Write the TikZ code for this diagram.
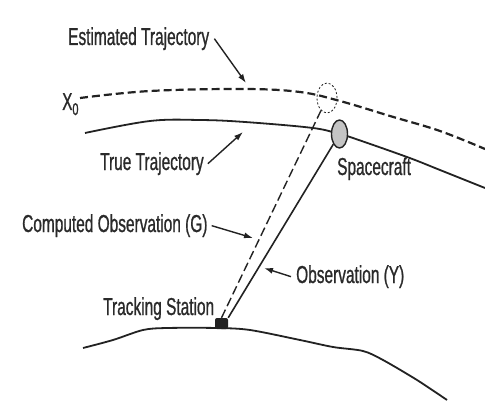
\documentclass[tikz,border=0pt]{standalone}
\usepackage{fontspec}
\setmainfont{Liberation Sans}[FakeStretch=0.63, FakeBold=0.8]
\usetikzlibrary{shapes.geometric,arrows.meta}
\definecolor{ink}{HTML}{222222}
\definecolor{txt}{HTML}{2A2A2A}
\definecolor{scfill}{HTML}{C4C4C4}
\tikzset{
  lbl/.style={anchor=base west, inner sep=0pt, text=txt, font=\fontsize{24.5}{26}\selectfont},
  pointer/.style={draw=ink, line width=1.4pt, -{Latex[length=9pt,width=6pt]}},
  traj/.style={draw=ink, line width=1.8pt},
  esttraj/.style={draw=ink, line width=2.2pt, dash pattern=on 8pt off 4pt},
  obsline/.style={draw=ink, line width=1.6pt},
  compline/.style={draw=ink, line width=1.4pt, dash pattern=on 9pt off 4pt},
}
\begin{document}
\begin{tikzpicture}[x=1pt,y=-1pt]
\useasboundingbox (0,0) rectangle (485,404);
\fill[white] (0,0) rectangle (485,404);

% trajectories and ground
\draw[esttraj] plot[smooth, tension=0.6] coordinates {(80,98) (150,91) (245,89) (300,92) (340,101) (390,116) (440,131) (485,149)};
\draw[traj] plot[smooth, tension=0.6] coordinates {(85,133) (150,121) (200,120) (245,122) (313,128) (339,134) (350,137) (407,157) (440,170) (485,188)};
\draw[traj] plot[smooth, tension=0.5] coordinates {(83,348) (113,340) (143,330) (167,328) (217,328) (250,330) (300,340) (333,347) (363,351) (383,360) (417,380) (447,400)};

% bodies
\node[ellipse, draw=ink, line width=0.8pt, dash pattern=on 2pt off 2pt, minimum width=20pt, minimum height=30pt, inner sep=0pt] (ghost) at (327,98) {};
\node[ellipse, draw=ink, line width=1.4pt, fill=scfill, minimum width=16pt, minimum height=28pt, inner sep=0pt] (sc) at (339.5,134) {};
\node[rectangle, rounded corners=2pt, fill=ink, minimum width=13pt, minimum height=11pt, inner sep=0pt] (station) at (221.5,323.5) {};

% observation lines
\draw[compline] (station.north) -- (ghost);
\draw[obsline] (station.north east) -- (sc);

% labels
\node[lbl] (est) at (68,45) {Estimated Trajectory};
\node[lbl] (x0) at (62,110) {X\raisebox{-5pt}{\fontsize{17}{17}\selectfont 0}};
\node[lbl] (true) at (100,170) {True Trajectory};
\node[lbl] (scl) at (337,175) {Spacecraft};
\node[lbl] (comp) at (22,232) {Computed Observation (G)};
\node[lbl] (obs) at (296,283) {Observation (Y)};
\node[lbl] (stl) at (103,315) {Tracking Station};

% pointer tips
\coordinate (estTip) at (246,83);
\coordinate (trueTip) at (243,132);
\coordinate (compTip) at (253,238);
\coordinate (obsTip) at (264,268);

\draw[pointer] ([xshift=5pt]est.east) -- (estTip);
\draw[pointer] ([xshift=4pt]true.east) -- (trueTip);
\draw[pointer] ([xshift=4pt]comp.east) -- (compTip);
\draw[pointer] ([xshift=-5pt]obs.west) -- (obsTip);
\end{tikzpicture}
\end{document}
